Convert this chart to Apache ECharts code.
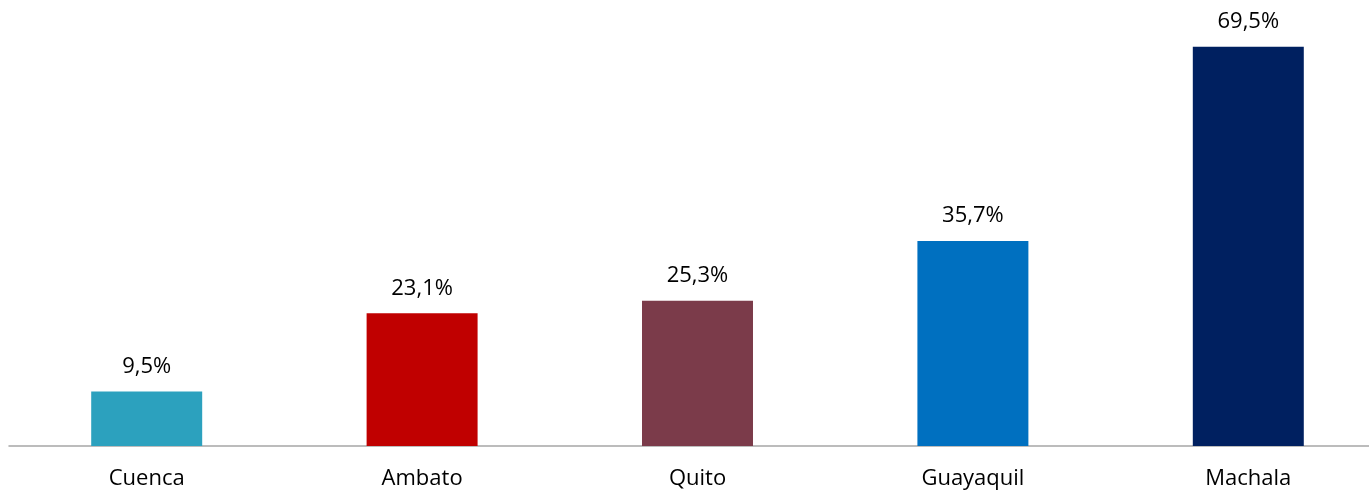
<!DOCTYPE html>
<html>
<head>
<meta charset="utf-8">
<script src="https://cdn.jsdelivr.net/npm/echarts@6/dist/echarts.min.js"></script>
<style>
    html, body { margin: 0; padding: 0; background: #fff; overflow: hidden; }
    #mychart { width: 1390px; height: 491px; }
</style>
</head>
<body>
<div id="mychart"></div>
<script>
// data
var cities = ['Cuenca', 'Ambato', 'Quito', 'Guayaquil', 'Machala'];
var values = [9.5, 23.1, 25.3, 35.7, 69.5];
var barColors = ['#2CA1BE', '#C00000', '#7B3B4A', '#0070C0', '#002060'];

function getCharts() {
    var myChart = echarts.init(document.getElementById('mychart'));
    var option = {
        animation: false,
        grid: {
            left: 9,
            width: 1377,
            top: 44,
            bottom: 45,
            containLabel: false
        },
        xAxis: {
            type: 'category',
            data: cities,
            axisLine: { lineStyle: { color: '#A6A6A6', width: 1.5 } },
            axisTick: { show: false },
            axisLabel: {
                color: '#000',
                fontFamily: 'Open Sans',
                fontSize: 22,
                margin: 22
            }
        },
        yAxis: {
            type: 'value',
            min: 0,
            max: 70,
            show: false,
            splitLine: { show: false }
        },
        series: [
            {
                type: 'bar',
                barWidth: '40.3%',
                data: values.map(function (v, i) {
                    return { value: v, itemStyle: { color: barColors[i] } };
                }),
                label: {
                    show: true,
                    position: 'top',
                    distance: 14,
                    color: '#000',
                    fontFamily: 'Open Sans',
                    fontSize: 22,
                    formatter: function (p) {
                        return p.value.toFixed(1).replace('.', ',') + '%';
                    }
                }
            }
        ]
    };
    myChart.setOption(option);
}
getCharts();
</script>
</body>
</html>
